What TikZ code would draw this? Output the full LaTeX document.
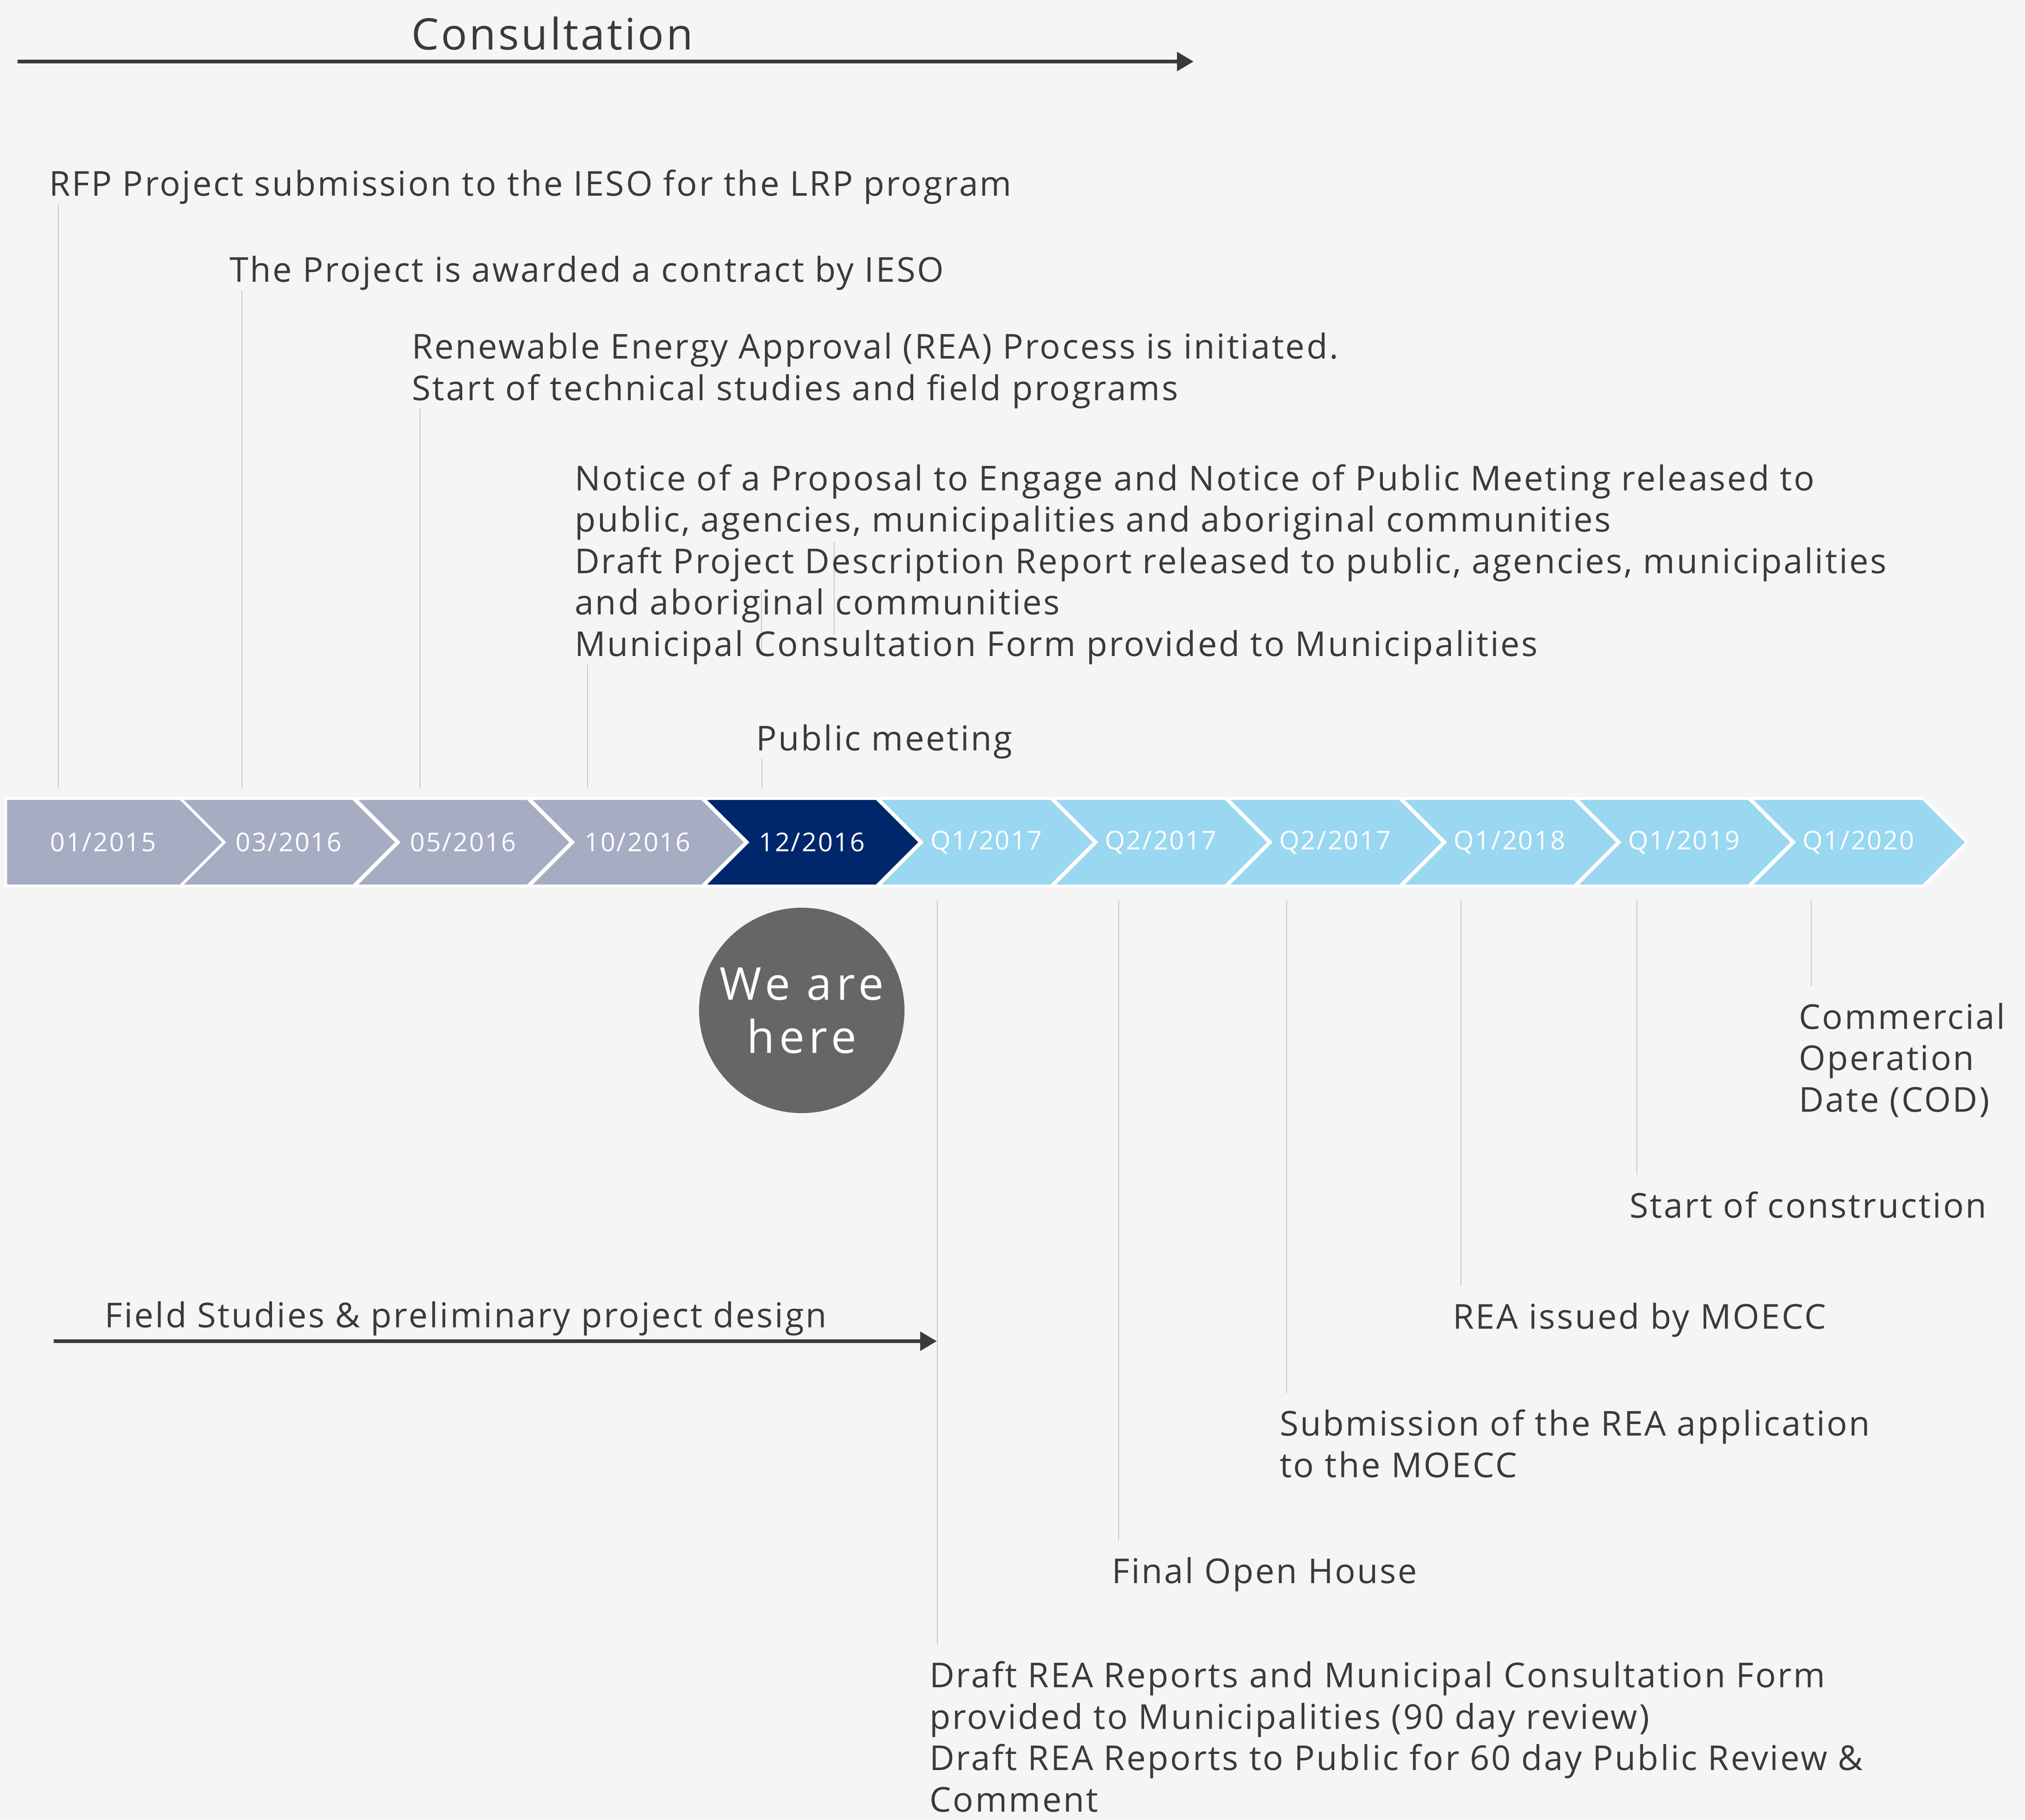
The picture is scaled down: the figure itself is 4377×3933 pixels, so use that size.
\documentclass[tikz,border=0pt]{standalone}
\usepackage{fontspec}
\setmainfont{Open Sans}[LetterSpace=5]
\usetikzlibrary{arrows.meta,shapes,positioning}
\definecolor{paper}{RGB}{245,245,245}
\definecolor{ink}{RGB}{58,58,58}
\definecolor{rulegray}{RGB}{200,200,200}
\definecolor{pastblue}{RGB}{166,172,194}
\definecolor{navy}{RGB}{0,39,107}
\definecolor{sky}{RGB}{154,215,240}
\definecolor{herefill}{RGB}{102,102,102}

\begin{document}
\begin{tikzpicture}[x=1pt,y=-1pt,node distance=377pt,>={Triangle[length=36pt,width=40pt]}]
  \tikzstyle{chevron}=[signal,signal to=east,signal from=west,signal pointer angle=90,
        draw=white,line width=6pt,minimum width=468pt,minimum height=189pt,inner sep=0pt,
        text=white,font=\fontsize{56}{60}\selectfont]
  \tikzstyle{past}=[chevron,fill=pastblue]
  \tikzstyle{now}=[chevron,fill=navy]
  \tikzstyle{later}=[chevron,fill=sky]
  \tikzstyle{note}=[anchor=base west,inner sep=0pt,align=left,text=ink,
        font=\fontsize{74}{89.5}\selectfont]
  \tikzstyle{leader}=[draw=rulegray,line width=2.5pt]
  \tikzstyle{phase}=[draw=ink,line width=8pt,->]
  \fill[paper] (0,0) rectangle (4377,3933);
  \useasboundingbox (0,0) rectangle (4377,3933);

    % the band of dates
    \node [past,signal from=nowhere,minimum width=516pt] (c1) at (223,1820.5) {01/2015};
    \node [past] (c2) [right of=c1,xshift=24pt] {03/2016};
    \node [past] (c3) [right of=c2] {05/2016};
    \node [past] (c4) [right of=c3] {10/2016};
    \node [now] (c5) [right of=c4] {12/2016};
    \node [later] (c6) [right of=c5] {Q1/2017};
    \node [later] (c7) [right of=c6] {Q2/2017};
    \node [later] (c8) [right of=c7] {Q2/2017};
    \node [later] (c9) [right of=c8] {Q1/2018};
    \node [later] (c10) [right of=c9] {Q1/2019};
    \node [later] (c11) [right of=c10] {Q1/2020};
    \coordinate (bandtop) at (0,1704);
    \coordinate (bandbot) at (0,1946);

    % consultation and field studies
    \coordinate (cfrom) at (38,133);
    \coordinate (cto) at (2580,133);
    \draw [phase] (cfrom) -- (cto);
    \node [note,font=\fontsize{94}{110}\selectfont] (consult) at (889,107) {Consultation};
    \coordinate (ffrom) at (116,2899);
    \coordinate (fto) at (2025,2899);
    \draw [phase] (ffrom) -- (fto);
    \node [note] (field) at (226,2869) {Field Studies \& preliminary project design};

    % stray leaders behind the notice text
    \coordinate (g1a) at (1803,1172);
    \coordinate (g1b) at (1803,1371);
    \coordinate (g2a) at (1646,1280);
    \coordinate (g2b) at (1646,1405);
    \draw [leader] (g1a) -- (g1b);
    \draw [leader] (g2a) -- (g2b);

    % milestones above
    \node [note] (rfp) at (106,423) {RFP Project submission to the IESO for the LRP program};
    \node [note] (award) at (496,609) {The Project is awarded a contract by IESO};
    \node [note] (rea) at (890,865) {Renewable Energy Approval (REA) Process is initiated.\\
        Start of technical studies and field programs};
    \node [note] (notice) at (1242,1418) {Notice of a Proposal to Engage and Notice of Public Meeting released to\\
        public, agencies, municipalities and aboriginal communities\\
        Draft Project Description Report released to public, agencies, municipalities\\
        and aboriginal communities\\
        Municipal Consultation Form provided to Municipalities};
    \node [note] (meet) at (1634,1622) {Public meeting};
    \draw [leader] ([xshift=20pt]rfp.south west) -- ([xshift=20pt]rfp.south west |- bandtop);
    \draw [leader] ([xshift=27pt]award.south west) -- ([xshift=27pt]award.south west |- bandtop);
    \draw [leader] ([xshift=18pt]rea.south west) -- ([xshift=18pt]rea.south west |- bandtop);
    \draw [leader] ([xshift=28pt]notice.south west) -- ([xshift=28pt]notice.south west |- bandtop);
    \draw [leader] ([xshift=13pt]meet.south west) -- ([xshift=13pt]meet.south west |- bandtop);

    % we are here
    \node [circle,fill=herefill,minimum size=444pt,inner sep=0pt,text=white,align=center,
        font=\fontsize{98}{115}\selectfont\addfontfeature{LetterSpace=10}] (here) at (1733,2184) {We are\\here};

    % milestones below
    \node [note] (draft) at (2009,3916) {Draft REA Reports and Municipal Consultation Form\\
        provided to Municipalities (90 day review)\\
        Draft REA Reports to Public for 60 day Public Review \&\\
        Comment};
    \node [note] (house) at (2403,3422) {Final Open House};
    \node [note] (submit) at (2766,3193) {Submission of the REA application\\to the MOECC};
    \node [note] (issued) at (3140,2872) {REA issued by MOECC};
    \node [note] (build) at (3522,2632) {Start of construction};
    \node [note] (cod) at (3888,2403) {Commercial\\Operation\\Date (COD)};
    \draw [leader,shorten >=36pt] ([xshift=17pt]draft.north west |- bandbot) -- ([xshift=17pt]draft.north west);
    \draw [leader,shorten >=36pt] ([xshift=15pt]house.north west |- bandbot) -- ([xshift=15pt]house.north west);
    \draw [leader,shorten >=36pt] ([xshift=15pt]submit.north west |- bandbot) -- ([xshift=15pt]submit.north west);
    \draw [leader,shorten >=36pt] ([xshift=18pt]issued.north west |- bandbot) -- ([xshift=18pt]issued.north west);
    \draw [leader,shorten >=36pt] ([xshift=16pt]build.north west |- bandbot) -- ([xshift=16pt]build.north west);
    \draw [leader,shorten >=36pt] ([xshift=27pt]cod.north west |- bandbot) -- ([xshift=27pt]cod.north west);
\end{tikzpicture}
\end{document}
